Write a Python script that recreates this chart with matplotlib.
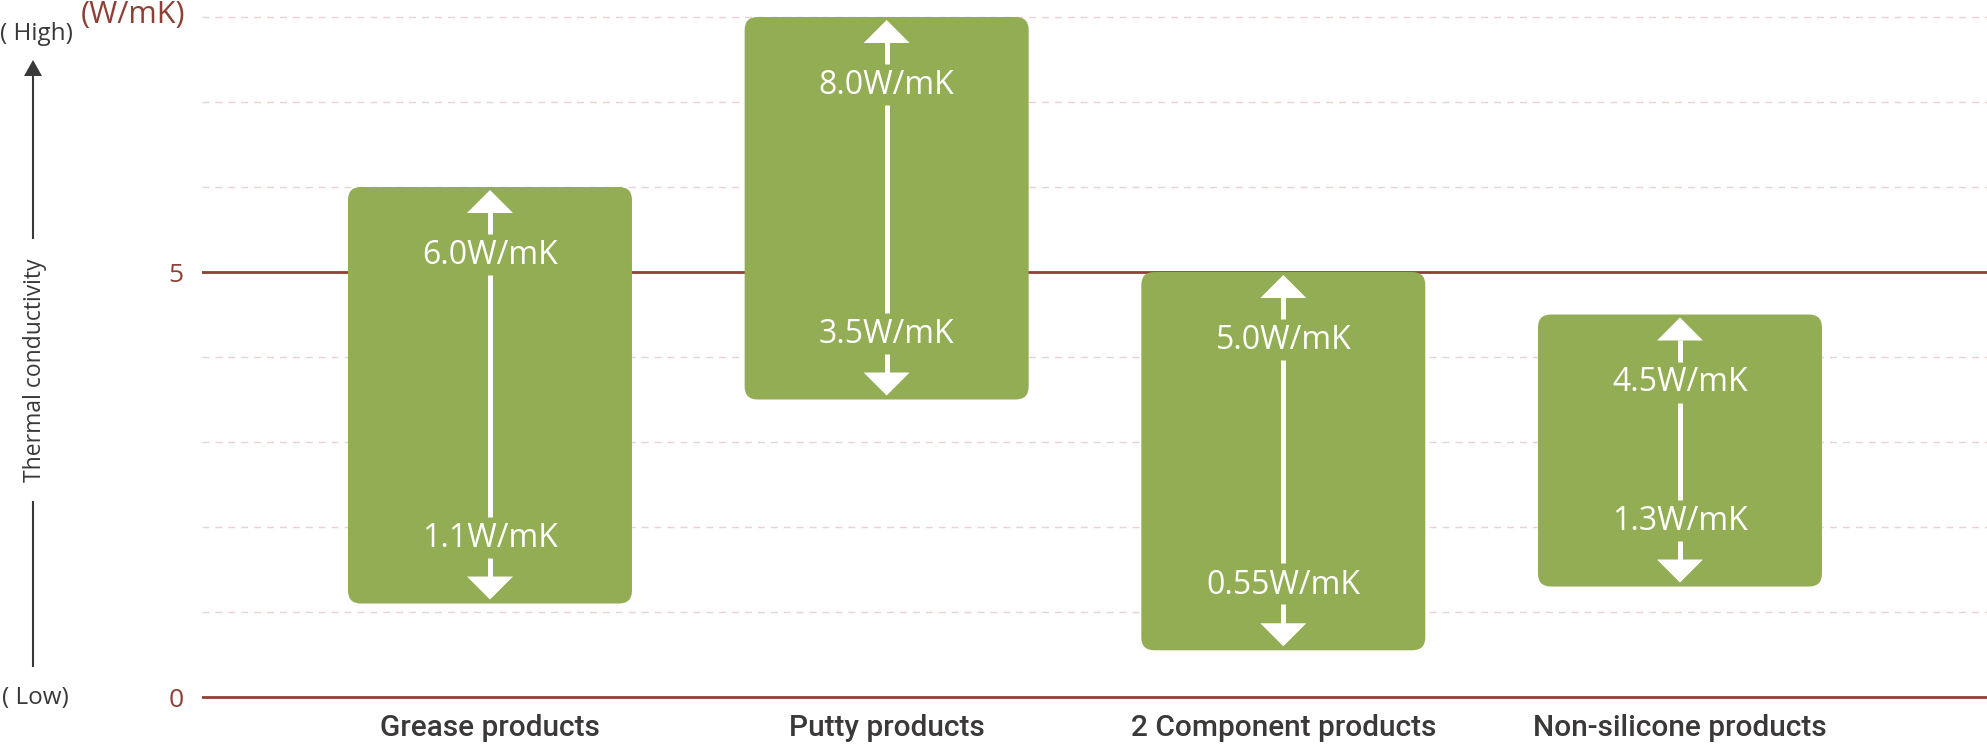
import matplotlib
matplotlib.use('Agg')
import matplotlib.pyplot as plt
from matplotlib.patches import FancyBboxPatch, Polygon

# data
categories = ["Grease products", "Putty products", "2 Component products", "Non-silicone products"]
low_values = [1.1, 3.5, 0.55, 1.3]
high_values = [6.0, 8.0, 5.0, 4.5]
grid_values = [1, 2, 3, 4, 6, 7, 8]
major_values = [0, 5]
unit = "W/mK"

GREEN = "#93ad55"
BROWN = "#8e4034"
GRID = "#e8d3d3"
DARK = "#3b3838"

plt.rcParams['font.family'] = ['Open Sans', 'DejaVu Sans']

W, H = 1987, 746
fig = plt.figure(figsize=(W / 100, H / 100), dpi=100)

# overlay in pixel coords for the left-hand annotations
fx = fig.add_axes([0, 0, 1, 1])
fx.set_xlim(0, W)
fx.set_ylim(H, 0)
fx.axis('off')

ax_left = 202
ax = fig.add_axes([ax_left / W, 0, 1 - ax_left / W, 1])
ax.set_xlim(-0.726, 3.774)
ax.set_ylim(-0.576, 8.2)
ax.patch.set_alpha(0)
for s in ax.spines.values():
    s.set_visible(False)

ux = (W - ax_left) / 4.5      # px per x unit
uy = H / (8.2 + 0.576)        # px per y unit

# grid
for v in grid_values:
    ax.axhline(v, color=GRID, lw=1.0, dashes=(5, 4.3), zorder=0.5)
for v in major_values:
    ax.axhline(v, color=BROWN, lw=2.0, zorder=1)

ax.set_xticks([])
ax.set_yticks(major_values)
ax.set_yticklabels([str(v) for v in major_values], color=BROWN, fontsize=19)
ax.tick_params(axis='y', length=0, pad=13.5)

box_w = 284 / ux
head_w = 23 / ux
for i, (lo, hi) in enumerate(zip(low_values, high_values)):
    box = FancyBboxPatch((i - box_w / 2, lo), box_w, hi - lo,
                         boxstyle=f"round,pad=0,rounding_size={13 / ux}",
                         mutation_aspect=ux / uy, fc=GREEN, ec='none', zorder=3)
    ax.add_patch(box)

    top_c = hi - 65 / uy
    bot_c = lo + 68 / uy
    # arrow heads
    ax.add_patch(Polygon([(i, hi - 3 / uy), (i - head_w, hi - 26 / uy), (i + head_w, hi - 26 / uy)],
                         closed=True, fc='white', ec='none', zorder=4))
    ax.add_patch(Polygon([(i, lo + 4 / uy), (i - head_w, lo + 27 / uy), (i + head_w, lo + 27 / uy)],
                         closed=True, fc='white', ec='none', zorder=4))
    # shafts
    ax.plot([i, i], [hi - 25 / uy, top_c + 18 / uy], color='white', lw=3.6, zorder=4, solid_capstyle='butt')
    ax.plot([i, i], [top_c - 23 / uy, bot_c + 19 / uy], color='white', lw=3.6, zorder=4, solid_capstyle='butt')
    ax.plot([i, i], [bot_c - 22 / uy, lo + 26 / uy], color='white', lw=3.6, zorder=4, solid_capstyle='butt')
    # labels
    ax.text(i, top_c - 11.5 / uy, f"{hi}{unit}", color='white', fontsize=23, ha='center', va='baseline', zorder=5)
    ax.text(i, bot_c - 11.5 / uy, f"{lo}{unit}", color='white', fontsize=23, ha='center', va='baseline', zorder=5)

    ax.text(i, -39 / uy, categories[i], color=DARK, fontsize=21.5, ha='center', va='baseline',
            family=['Roboto', 'DejaVu Sans'], fontweight='medium')

# left-hand annotations
fx.text(81, 23, f"({unit})", color=BROWN, fontsize=22, va='baseline')
fx.text(0, 39.5, "( High)", color=DARK, fontsize=17.5, va='baseline', fontweight='medium')
fx.text(2, 704, "( Low)", color=DARK, fontsize=17.5, va='baseline', fontweight='medium')
fx.text(35, 370, "Thermal conductivity", color=DARK, fontsize=16.5, rotation=90, ha='center', va='center')
fx.plot([33, 33], [75, 238], color=DARK, lw=1.5)
fx.plot([33, 33], [502, 666], color=DARK, lw=1.5)
fx.add_patch(Polygon([(33, 60), (24, 76), (42, 76)], closed=True, fc=DARK, ec='none'))

fig.savefig("out.png", dpi=100, facecolor='white')
